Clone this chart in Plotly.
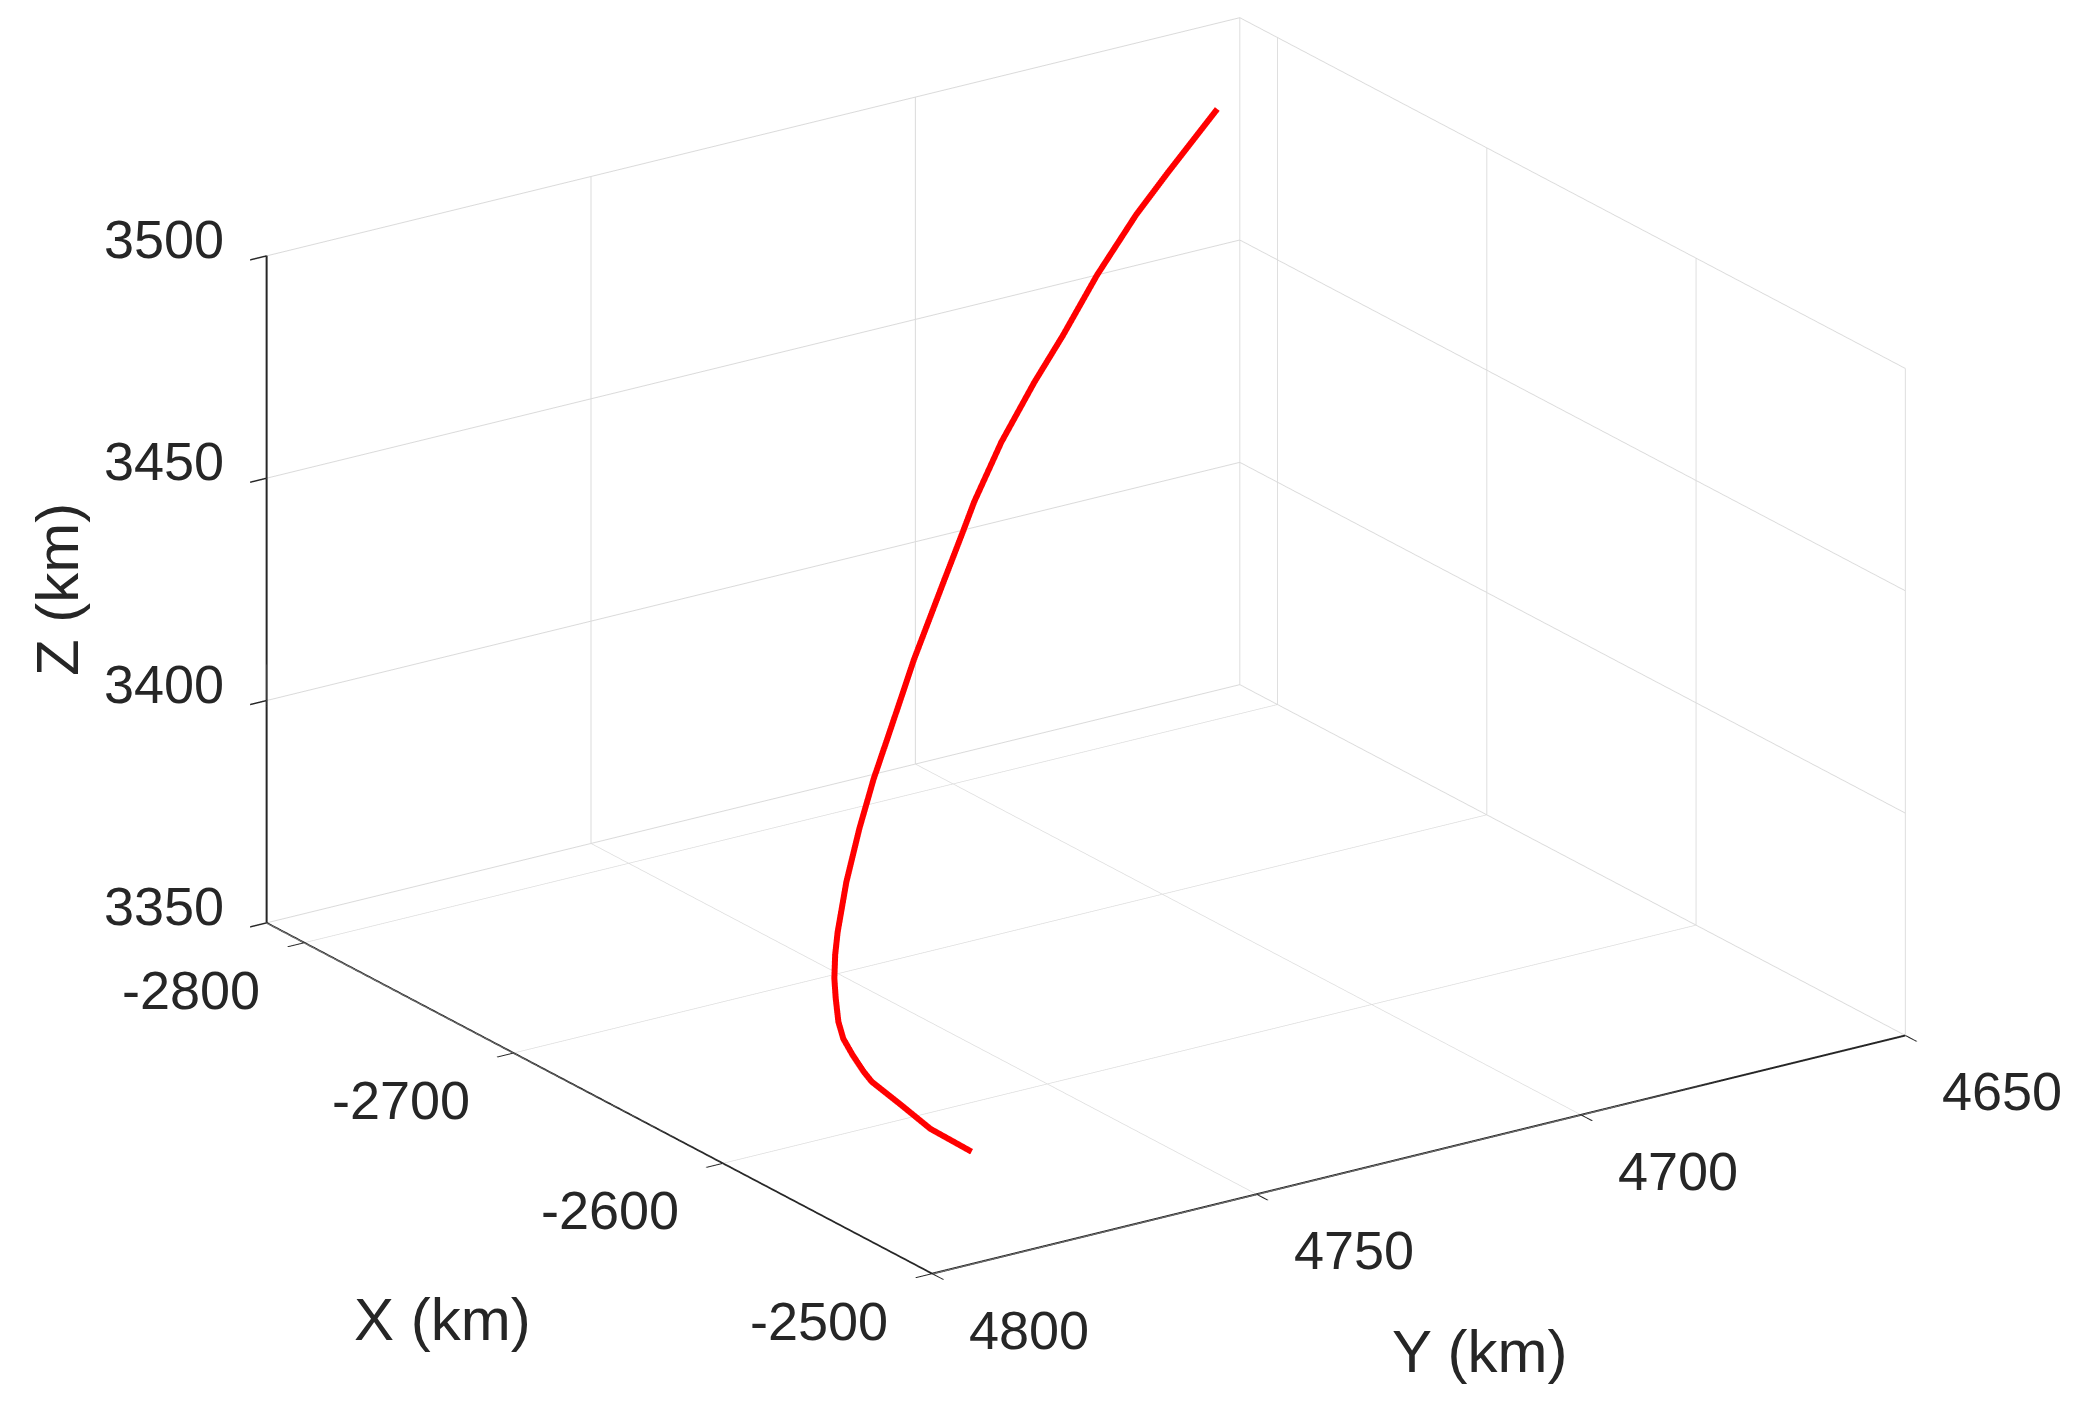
import plotly.graph_objects as go

# Trajectory (km)
x_km = [-2764.9, -2758.3, -2753.5, -2746.1, -2737.8, -2731.7, -2723.3, -2718.3,
        -2714.0, -2709.4, -2701.4, -2688.1, -2676.1, -2667.5, -2658.5, -2648.6,
        -2638.8, -2634.1, -2628.9, -2624.2, -2618.6, -2614.1, -2609.1, -2603.7,
        -2600.2, -2590.7, -2580.8, -2569.5]
y_km = [4670.6, 4680.3, 4686.8, 4695.2, 4703.1, 4709.5, 4717.3, 4721.2,
        4724.5, 4727.6, 4733.1, 4742.1, 4749.6, 4755.0, 4760.1, 4765.3,
        4769.8, 4771.7, 4773.5, 4774.8, 4776.2, 4776.9, 4777.1, 4777.1,
        4777.0, 4775.6, 4774.2, 4771.5]
z_km = [3500.0, 3490.9, 3484.8, 3476.1, 3467.5, 3460.7, 3452.1, 3447.4,
        3443.5, 3439.5, 3432.4, 3420.9, 3410.8, 3403.6, 3396.5, 3388.8,
        3381.6, 3378.3, 3374.9, 3372.0, 3368.7, 3366.3, 3364.0, 3361.5,
        3360.1, 3356.8, 3353.3, 3350.0]

x_ticks = [-2800, -2700, -2600, -2500]
y_ticks = [4800, 4750, 4700, 4650]
z_ticks = [3350, 3400, 3450, 3500]
x_lim = [-2818, -2500]
y_lim = [4650, 4800]
z_lim = [3350, 3500]

txt = "#262626"
grid = "#dadada"
font = "Liberation Sans, Arial, Helvetica, sans-serif"
tick_size = 54
title_size = 60

# Y axis runs reversed in the reference: plot -Y with positive labels
fig = go.Figure(go.Scatter3d(
    x=x_km, y=[-v for v in y_km], z=z_km,
    mode="lines", line=dict(color="#ff0000", width=12), showlegend=False,
    hoverinfo="skip"))

def ax(tv, rng):
    return dict(title=dict(text=""), tickvals=tv, range=rng,
                showticklabels=False,
                showgrid=True, gridcolor=grid, gridwidth=2,
                showline=True, linecolor=txt, linewidth=4,
                ticks="outside", ticklen=20, tickwidth=3, tickcolor=txt,
                zeroline=False, showbackground=False, showspikes=False)

ann = []
tf = dict(size=tick_size, color=txt, family=font)
hf = dict(size=title_size, color=txt, family=font)
for v in z_ticks:
    ann.append(dict(x=x_lim[0], y=-y_lim[1], z=v, text=str(v), showarrow=False,
                    xanchor="right", yanchor="middle", xshift=-41, yshift=17, font=tf))
for v in x_ticks:
    ann.append(dict(x=v, y=-y_lim[1], z=z_lim[0], text=str(v), showarrow=False,
                    xanchor="center", yanchor="middle", xshift=-113, yshift=-47, font=tf))
for v in y_ticks:
    ann.append(dict(x=x_lim[1], y=-v, z=z_lim[0], text=str(v), showarrow=False,
                    xanchor="center", yanchor="middle", xshift=97, yshift=-56, font=tf))
ann.append(dict(x=-2650, y=-y_lim[1], z=z_lim[0], text="X (km)", showarrow=False,
                xanchor="center", yanchor="middle", xshift=-176, yshift=-211, font=hf))
ann.append(dict(x=x_lim[1], y=-4725, z=z_lim[0], text="Y (km)", showarrow=False,
                xanchor="center", yanchor="middle", xshift=61, yshift=-197, font=hf))
ann.append(dict(x=x_lim[0], y=-y_lim[1], z=3425, text="Z (km)", showarrow=False,
                xanchor="center", yanchor="middle", xshift=-209, yshift=0,
                textangle=-90, font=hf))

fig.update_layout(
    width=2100, height=1418,
    margin=dict(l=0, r=0, t=0, b=0),
    paper_bgcolor="white",
    font=dict(family=font, color=txt),
    scene=dict(
        domain=dict(x=[0, 1], y=[0, 1]),
        xaxis=ax(x_ticks, x_lim),
        yaxis=ax([-v for v in y_ticks], [-y_lim[1], -y_lim[0]]),
        zaxis=ax(z_ticks, z_lim),
        aspectmode="manual",
        aspectratio=dict(x=1.667, y=1.661, z=1.008),
        camera=dict(eye=dict(x=2.3215, y=-1.6298, z=0.9837),
                    center=dict(x=0.0076, y=-0.0530, z=-0.0939),
                    up=dict(x=0, y=0, z=1),
                    projection=dict(type="orthographic")),
        annotations=ann,
    ),
)

fig.write_html("out.html", config={"displayModeBar": False})
